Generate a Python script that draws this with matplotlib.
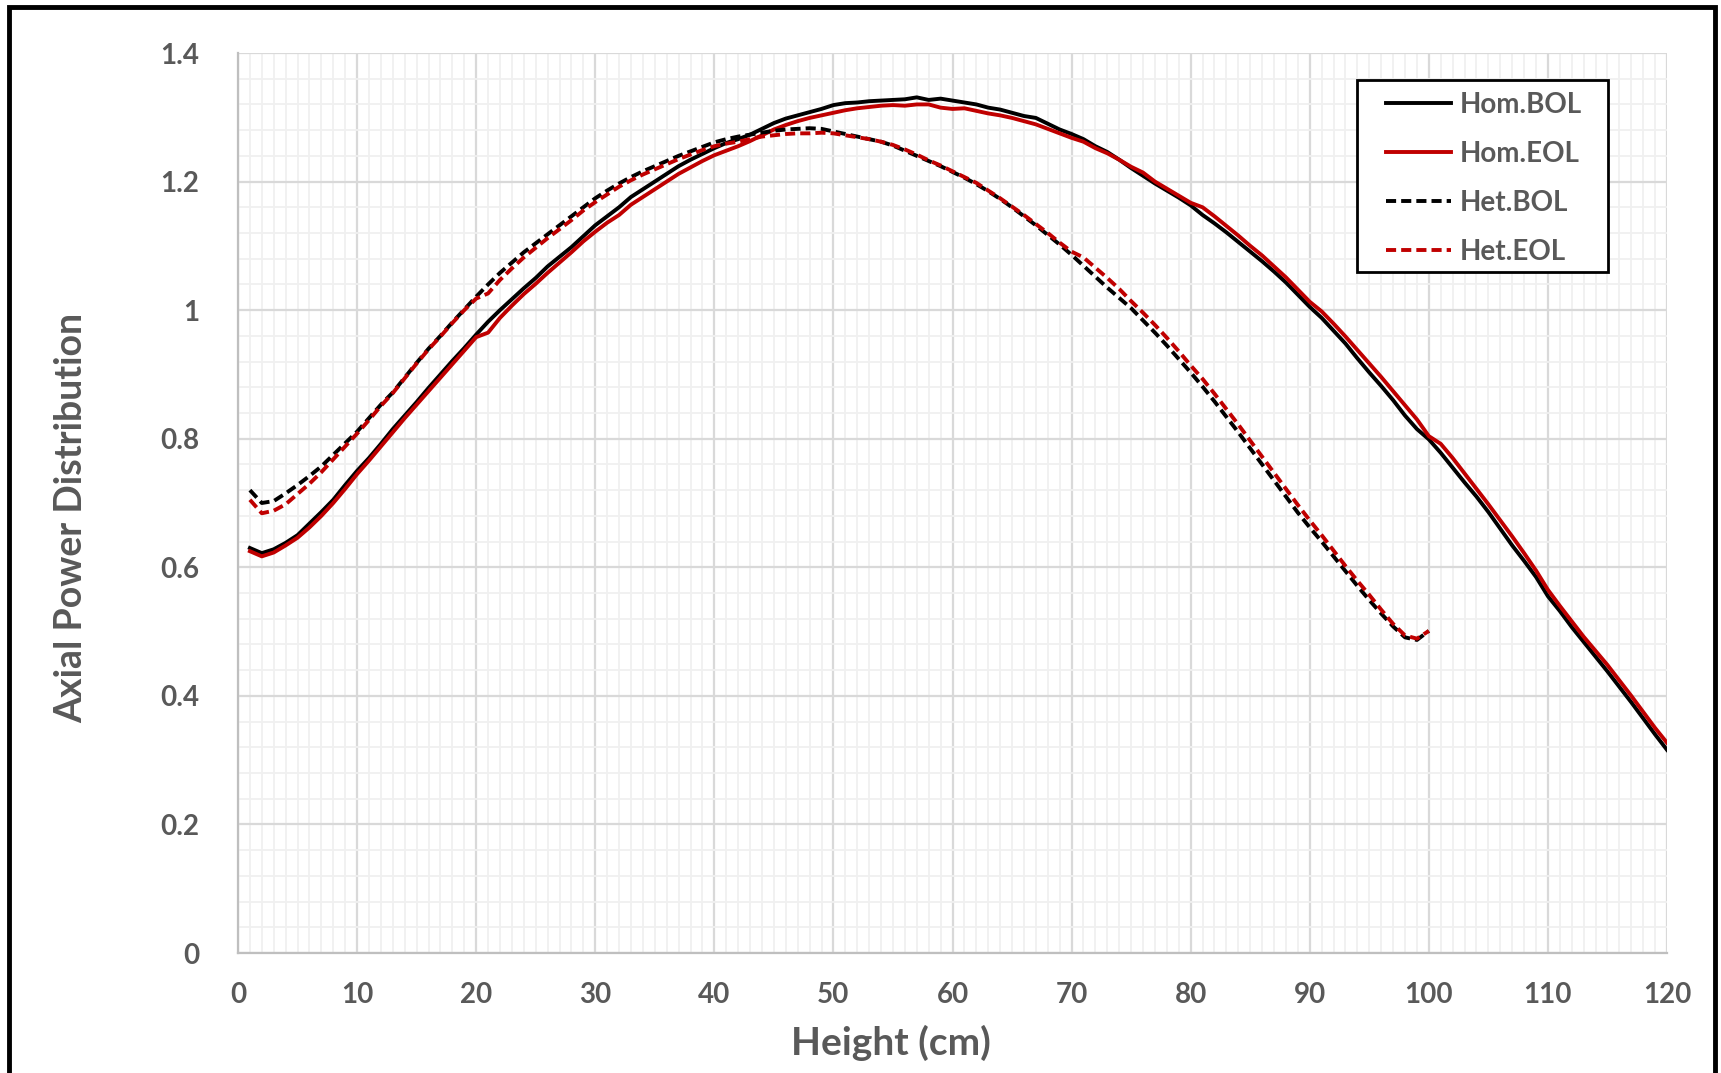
import matplotlib
matplotlib.use("Agg")
import matplotlib.pyplot as plt
from matplotlib.patches import Rectangle
from matplotlib.ticker import MultipleLocator, FuncFormatter

plt.rcParams['font.family'] = ['Lato', 'DejaVu Sans']

# ---------------- data ----------------
height_hom = list(range(1, 121))
height_het = list(range(1, 101))

hom_bol = [0.630, 0.622, 0.628, 0.638, 0.650, 0.668, 0.686, 0.705, 0.728, 0.750,
           0.770, 0.792, 0.815, 0.836, 0.857, 0.879, 0.900, 0.921, 0.941, 0.962,
           0.982, 1.000, 1.017, 1.034, 1.050, 1.068, 1.083, 1.098, 1.115, 1.132,
           1.146, 1.160, 1.176, 1.188, 1.200, 1.212, 1.224, 1.234, 1.243, 1.252,
           1.260, 1.266, 1.273, 1.282, 1.291, 1.298, 1.303, 1.308, 1.313, 1.319,
           1.322, 1.323, 1.325, 1.326, 1.327, 1.328, 1.331, 1.327, 1.329, 1.326,
           1.323, 1.320, 1.315, 1.312, 1.307, 1.302, 1.299, 1.290, 1.281, 1.274,
           1.266, 1.255, 1.246, 1.234, 1.221, 1.209, 1.197, 1.186, 1.175, 1.163,
           1.148, 1.135, 1.121, 1.106, 1.091, 1.076, 1.060, 1.043, 1.024, 1.005,
           0.988, 0.968, 0.948, 0.925, 0.903, 0.882, 0.860, 0.836, 0.815, 0.799,
           0.778, 0.755, 0.732, 0.710, 0.686, 0.660, 0.634, 0.610, 0.585, 0.555,
           0.532, 0.507, 0.484, 0.461, 0.438, 0.414, 0.390, 0.365, 0.340, 0.316]

hom_eol = [0.625, 0.617, 0.623, 0.634, 0.646, 0.662, 0.680, 0.700, 0.722, 0.745,
           0.766, 0.788, 0.810, 0.832, 0.853, 0.874, 0.895, 0.916, 0.937, 0.958,
           0.965, 0.988, 1.007, 1.025, 1.041, 1.058, 1.074, 1.090, 1.107, 1.122,
           1.136, 1.148, 1.164, 1.176, 1.188, 1.200, 1.212, 1.222, 1.232, 1.241,
           1.248, 1.255, 1.263, 1.272, 1.281, 1.288, 1.294, 1.299, 1.303, 1.307,
           1.311, 1.314, 1.316, 1.318, 1.319, 1.318, 1.320, 1.320, 1.315, 1.313,
           1.314, 1.310, 1.306, 1.303, 1.299, 1.294, 1.289, 1.282, 1.275, 1.268,
           1.262, 1.252, 1.244, 1.234, 1.223, 1.214, 1.200, 1.189, 1.178, 1.167,
           1.160, 1.146, 1.131, 1.116, 1.100, 1.085, 1.068, 1.051, 1.032, 1.013,
           0.998, 0.979, 0.959, 0.938, 0.917, 0.896, 0.874, 0.852, 0.830, 0.804,
           0.792, 0.770, 0.746, 0.722, 0.698, 0.673, 0.648, 0.622, 0.595, 0.565,
           0.540, 0.516, 0.492, 0.470, 0.448, 0.424, 0.400, 0.375, 0.350, 0.327]

het_bol = [0.720, 0.700, 0.703, 0.715, 0.728, 0.742, 0.757, 0.775, 0.793, 0.811,
           0.832, 0.853, 0.872, 0.895, 0.918, 0.940, 0.960, 0.981, 1.001, 1.021,
           1.040, 1.058, 1.074, 1.090, 1.104, 1.118, 1.132, 1.146, 1.160, 1.174,
           1.186, 1.197, 1.207, 1.216, 1.224, 1.232, 1.240, 1.247, 1.254, 1.261,
           1.266, 1.270, 1.273, 1.276, 1.279, 1.281, 1.282, 1.283, 1.282, 1.278,
           1.274, 1.270, 1.266, 1.262, 1.256, 1.248, 1.240, 1.232, 1.224, 1.215,
           1.206, 1.196, 1.185, 1.173, 1.160, 1.146, 1.132, 1.117, 1.102, 1.086,
           1.069, 1.052, 1.035, 1.019, 1.003, 0.984, 0.965, 0.945, 0.924, 0.903,
           0.881, 0.858, 0.834, 0.810, 0.785, 0.760, 0.735, 0.710, 0.685, 0.662,
           0.640, 0.617, 0.594, 0.571, 0.549, 0.528, 0.508, 0.491, 0.487, 0.501]

het_eol = [0.705, 0.684, 0.688, 0.698, 0.714, 0.730, 0.748, 0.768, 0.788, 0.808,
           0.829, 0.851, 0.871, 0.894, 0.917, 0.939, 0.959, 0.980, 1.000, 1.018,
           1.026, 1.047, 1.065, 1.082, 1.097, 1.112, 1.126, 1.140, 1.155, 1.168,
           1.180, 1.192, 1.202, 1.211, 1.219, 1.227, 1.235, 1.242, 1.249, 1.255,
           1.259, 1.262, 1.266, 1.270, 1.272, 1.274, 1.275, 1.275, 1.276, 1.275,
           1.272, 1.269, 1.266, 1.262, 1.257, 1.250, 1.242, 1.233, 1.225, 1.216,
           1.207, 1.198, 1.186, 1.174, 1.161, 1.148, 1.134, 1.120, 1.105, 1.091,
           1.082, 1.066, 1.050, 1.033, 1.014, 0.996, 0.977, 0.957, 0.936, 0.914,
           0.893, 0.870, 0.846, 0.822, 0.797, 0.772, 0.747, 0.722, 0.697, 0.673,
           0.650, 0.626, 0.602, 0.579, 0.557, 0.534, 0.512, 0.494, 0.489, 0.501]

labels = ["Hom.BOL", "Hom.EOL", "Het.BOL", "Het.EOL"]

# ---------------- figure ----------------
DARK_RED = "#C00000"
TXT = "#595959"

fig = plt.figure(figsize=(17.21, 10.73), dpi=100)
ax = fig.add_axes([238/1721, 120/1073, 1429/1721, 900/1073])

lw = 2.8
dash = (2.6, 1.3)
ax.plot(height_hom, hom_bol, color="black", lw=lw, label=labels[0], zorder=3)
ax.plot(height_hom, hom_eol, color=DARK_RED, lw=lw, label=labels[1], zorder=3)
ax.plot(height_het, het_bol, color="black", lw=lw, dashes=dash, label=labels[2], zorder=3)
ax.plot(height_het, het_eol, color=DARK_RED, lw=lw, dashes=dash, label=labels[3], zorder=3)

ax.set_xlim(0, 120)
ax.set_ylim(0, 1.4)
ax.xaxis.set_major_locator(MultipleLocator(10))
ax.xaxis.set_minor_locator(MultipleLocator(1))
ax.yaxis.set_major_locator(MultipleLocator(0.2))
ax.yaxis.set_minor_locator(MultipleLocator(0.04))

def yfmt(v, pos):
    s = f"{v:.1f}"
    if s.endswith(".0"):
        s = s[:-2]
    return s

ax.yaxis.set_major_formatter(FuncFormatter(yfmt))

ax.grid(which="major", color="#D9D9D9", lw=1.6, zorder=1)
ax.grid(which="minor", color="#F0F0F0", lw=1.3, zorder=0)
ax.set_axisbelow(True)

for side in ["top", "right"]:
    ax.spines[side].set_visible(False)
for side in ["left", "bottom"]:
    ax.spines[side].set_color("#BFBFBF")
    ax.spines[side].set_linewidth(1.6)

ax.tick_params(which="both", length=0)
ax.tick_params(axis="x", pad=21, labelsize=20, labelcolor=TXT)
ax.tick_params(axis="y", pad=28, labelsize=20, labelcolor=TXT)
for t in ax.get_xticklabels() + ax.get_yticklabels():
    t.set_fontweight("bold")

ax.set_xlabel("Height (cm)", fontsize=28, fontweight="bold", color=TXT, labelpad=12)
ax.set_ylabel("Axial Power Distribution", fontsize=27, fontweight="bold", color=TXT, labelpad=52)
ax.xaxis.label.set_x(0.457)
ax.yaxis.label.set_y(0.483)

# legend: frame drawn separately, entries placed inside
ax.add_patch(Rectangle((0.783, 0.757), 0.176, 0.213, transform=ax.transAxes,
                       facecolor="white", edgecolor="black", linewidth=2.0, zorder=5))
leg = ax.legend(loc="upper left", bbox_to_anchor=(0.8035, 0.957),
                frameon=False, fontsize=20, handlelength=2.34,
                borderpad=0, labelspacing=0.83, handletextpad=0.32, borderaxespad=0)
leg.set_zorder(6)
for t in leg.get_texts():
    t.set_color(TXT)
    t.set_fontweight("bold")

# outer frame
fig.patches.append(Rectangle((9/1721, -0.02), (1715-9)/1721, 1.02 - 7/1073,
                             transform=fig.transFigure, fill=False,
                             edgecolor="black", linewidth=3.5, zorder=10))

fig.savefig("out.png", dpi=100)
